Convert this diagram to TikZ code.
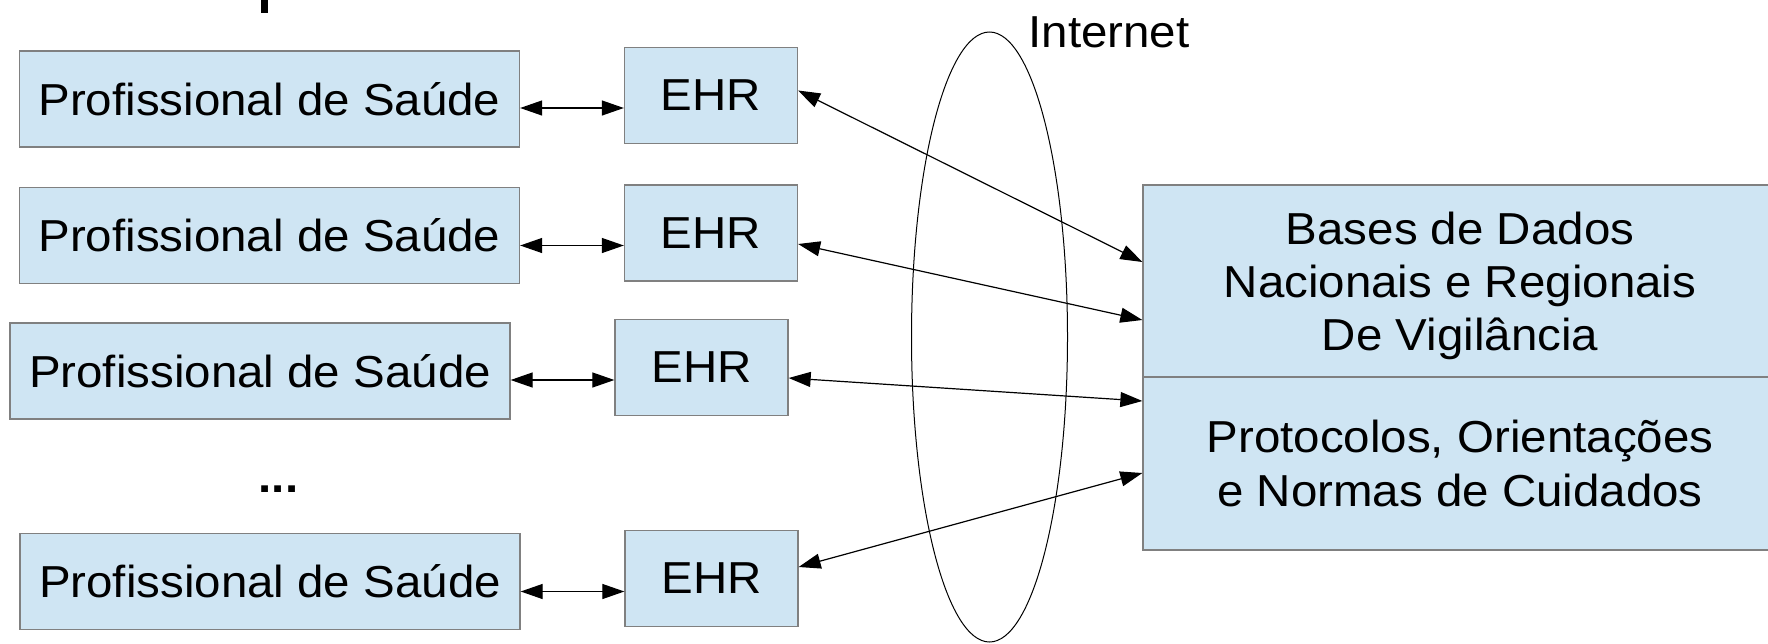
\documentclass[tikz,border=0pt]{standalone}
\usepackage{fontspec}
\setmainfont{Liberation Sans}[FakeStretch=1.06]
\usetikzlibrary{arrows.meta}
\definecolor{boxfill}{RGB}{207,229,243}
\definecolor{boxline}{RGB}{128,128,128}
\begin{document}
\begin{tikzpicture}[x=0.5pt,y=-0.5pt,
  txt/.style={font=\fontsize{22.4pt}{26.7pt}\selectfont},
  box/.style={txt, draw=boxline, fill=boxfill, line width=0.65pt, inner sep=0pt, align=center},
  prof/.style={box, minimum width=250pt, minimum height=48pt},
  ehr/.style={box, minimum width=86.5pt, minimum height=48pt},
  link/.style={line width=0.6pt, {Triangle[length=11pt,width=7.5pt]}-{Triangle[length=11pt,width=7.5pt]}}
]
\useasboundingbox (0,0) rectangle (1768,643);
\clip (0,0) rectangle (1768,643);

% fragment of cut-off title
\fill (261,0) rectangle (268,13);

\node[prof] (P1) at (269.5,99) {Profissional de Saúde};
\node[ehr]  (E1) at (711,95.5) {EHR};
\node[prof] (P2) at (269.5,235.5) {Profissional de Saúde};
\node[ehr]  (E2) at (711,233) {EHR};
\node[prof] (P3) at (260,371) {Profissional de Saúde};
\node[ehr]  (E3) at (701.5,367.5) {EHR};
\node[txt, font=\fontsize{22.4pt}{26.5pt}\selectfont\bfseries, anchor=base] (dots) at (278.5,492) {...};
\node[prof] (P4) at (270,581.5) {Profissional de Saúde};
\node[ehr]  (E4) at (711.5,578.5) {EHR};

\draw[line width=0.5pt] (989.5,337) ellipse [x radius=78, y radius=305];
\node[txt, anchor=base] (inet) at (1109,47) {Internet};

\node[box, minimum width=317pt, minimum height=96pt] (B) at (1460,281) {};
\node[txt, align=center] (Btxt) at ([yshift=-2.5pt]B.center)
  {Bases de Dados\\Nacionais e Regionais\\De Vigilância};
\node[box, minimum width=317pt, minimum height=86.5pt] (C) at (1460,463.5)
  {Protocolos, Orientações\\e Normas de Cuidados};

\draw[link] ([yshift=-4.5pt]P1.east) -- ([yshift=-4.5pt]P1.east -| E1.west);
\draw[link] ([yshift=-5pt]P2.east) -- ([yshift=-5pt]P2.east -| E2.west);
\draw[link] ([yshift=-4.5pt]P3.east) -- ([yshift=-4.5pt]P3.east -| E3.west);
\draw[link] ([yshift=-5pt]P4.east) -- ([yshift=-5pt]P4.east -| E4.west);

\draw[link] ([yshift=2.5pt]E1.east) -- ([yshift=9.5pt]B.west);
\draw[link] ([yshift=-5.5pt]E2.east) -- ([yshift=-19.5pt]B.west);
\draw[link] ([yshift=-5.25pt]E3.east) -- ([yshift=31.25pt]C.west);
\draw[link] ([yshift=5.75pt]E4.east) -- ([yshift=-4.75pt]C.west);
\end{tikzpicture}
\end{document}
